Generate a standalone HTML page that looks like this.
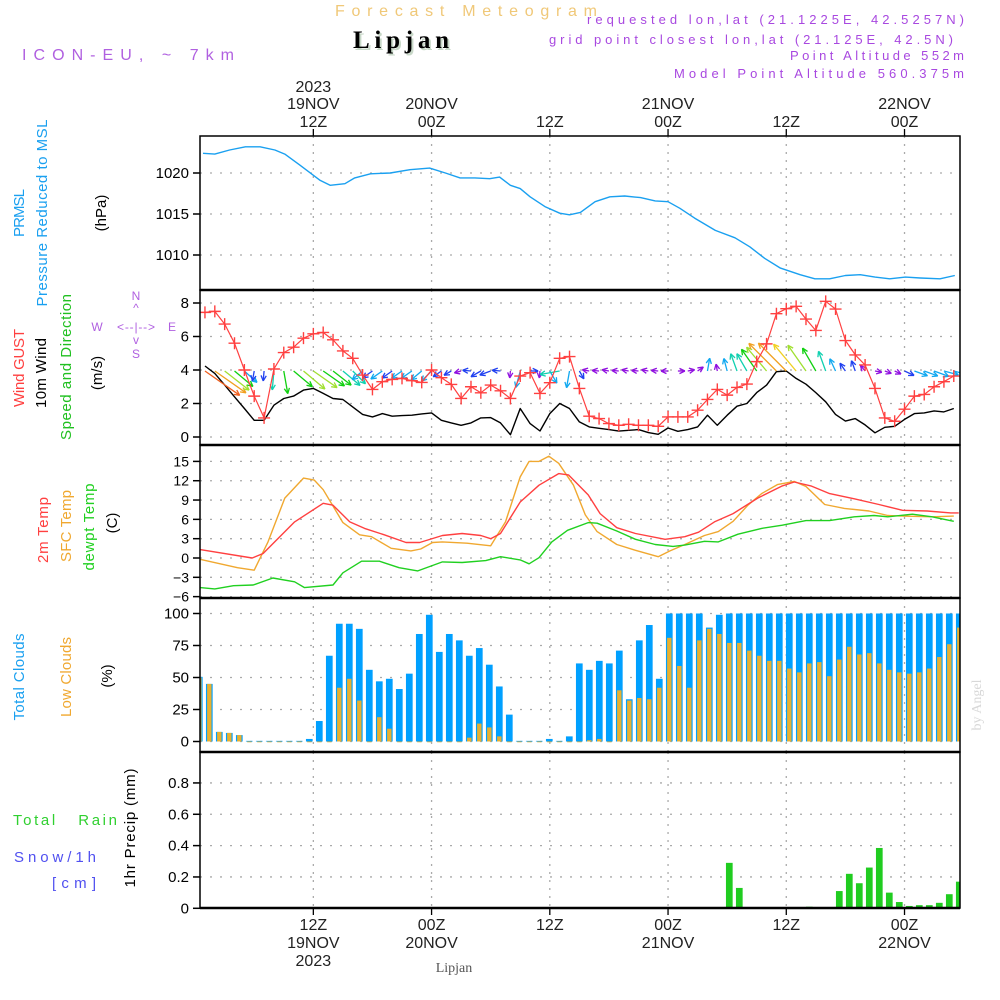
<!DOCTYPE html>
<html><head><meta charset="utf-8"><style>
html,body{margin:0;padding:0;background:#fff;}
svg{display:block;font-family:"Liberation Sans",sans-serif;}
</style></head><body>
<svg id="chart" width="1000" height="1000" viewBox="0 0 1000 1000" xmlns="http://www.w3.org/2000/svg">
<rect x="0" y="0" width="1000" height="1000" fill="#fff"/>
<text x="335" y="16" font-size="16" fill="#f0c878" textLength="262">Forecast Meteogram</text>
<text x="355" y="50" font-family="Liberation Serif,serif" font-weight="bold" font-size="25" fill="#c8d8c8" textLength="96">Lipjan</text>
<text x="353" y="48" font-family="Liberation Serif,serif" font-weight="bold" font-size="25" fill="#000" textLength="96">Lipjan</text>
<text x="22" y="60" font-size="16" fill="#b060e0" textLength="212">ICON-EU, ~ 7km</text>
<g fill="#a848e0" font-size="13" text-anchor="end">
<text x="964" y="24" textLength="377">requested lon,lat (21.1225E, 42.5257N)</text>
<text x="953" y="44" textLength="404">grid point closest lon,lat (21.125E, 42.5N)</text>
<text x="964" y="60" textLength="174">Point Altitude 552m</text>
<text x="964" y="78" textLength="290">Model Point Altitude 560.375m</text>
</g>
<g font-size="15" fill="#000" text-anchor="middle">
<text transform="translate(24,213) rotate(-90)" fill="#1aa0f0" textLength="48">PRMSL</text>
<text transform="translate(47,213) rotate(-90)" fill="#1aa0f0" textLength="187">Pressure Reduced to MSL</text>
<text transform="translate(106,213) rotate(-90)">(hPa)</text>
<text transform="translate(24,368) rotate(-90)" fill="#ff4040" textLength="78">Wind GUST</text>
<text transform="translate(46,373) rotate(-90)" textLength="70">10m Wind</text>
<text transform="translate(71,367) rotate(-90)" fill="#20c020" textLength="146">Speed and Direction</text>
<text transform="translate(102,373) rotate(-90)">(m/s)</text>
<text transform="translate(48,530) rotate(-90)" fill="#ff4040" textLength="66">2m Temp</text>
<text transform="translate(71,526) rotate(-90)" fill="#f0a830" textLength="72">SFC Temp</text>
<text transform="translate(94,527) rotate(-90)" fill="#20d020" textLength="87">dewpt Temp</text>
<text transform="translate(117,523) rotate(-90)">(C)</text>
<text transform="translate(24,677) rotate(-90)" fill="#1aa0f0" textLength="87">Total Clouds</text>
<text transform="translate(71,677) rotate(-90)" fill="#f0a830" textLength="80">Low Clouds</text>
<text transform="translate(112,676) rotate(-90)">(%)</text>
<text transform="translate(135,828) rotate(-90)" textLength="119">1hr Precip (mm)</text>
</g>
<text x="13" y="825" font-size="15" fill="#30d030" textLength="104" xml:space="preserve">Total   Rain</text>
<text x="14" y="862" font-size="15" fill="#5050f0" textLength="82">Snow/1h</text>
<text x="52" y="888" font-size="15" fill="#5050f0" textLength="44">[cm]</text>
<g fill="#b060e0" font-size="12" text-anchor="middle">
<text x="136" y="300">N</text><text x="136" y="312">^</text>
<text x="97" y="331">W</text><text x="136" y="331" textLength="38">&lt;--|--&gt;</text><text x="172" y="331">E</text>
<text x="136" y="344">v</text><text x="136" y="358">S</text>
</g>
<text transform="translate(981,705) rotate(-90)" text-anchor="middle" font-family="Liberation Serif,serif" font-size="14" fill="#d8d8d8">by Angel</text>
<text x="454" y="972" text-anchor="middle" font-family="Liberation Serif,serif" font-size="14" fill="#555">Lipjan</text>
<g id="plot"></g>
</svg>
<script>
const pressHours=[0.8,2,3.5,5.1,6.6,8.1,9.1,10.6,12.7,13.7,15.2,16.2,17.8,19.8,21.8,23.8,25.4,26.9,28.4,29.9,30.9,32,33,34,35.5,37,38,39.1,40.6,42.1,43.6,45.2,46.7,48,49.2,50.7,52.8,54.8,56.3,57.8,59.4,61.4,62.9,64.4,66,67.5,69,70.5,72.1,73.6,75.6,77.1];
const pressVals=[1022.4,1022.3,1022.8,1023.2,1023.2,1022.8,1022.3,1021.0,1019.1,1018.5,1018.7,1019.4,1019.9,1020.0,1020.4,1020.6,1020.0,1019.4,1019.4,1019.3,1019.5,1018.5,1018.1,1017.1,1015.9,1015.1,1014.9,1015.2,1016.5,1017.1,1017.2,1017.0,1016.6,1016.5,1015.7,1014.5,1013.0,1012.1,1011.0,1009.6,1008.4,1007.6,1007.1,1007.1,1007.5,1007.6,1007.3,1007.1,1007.3,1007.2,1007.1,1007.5];
const wind10m=[4.24,3.8,3.1,2.4,1.7,1.0,1.0,1.9,2.3,2.44,2.8,2.9,2.6,2.3,2.24,1.8,1.35,1.2,1.4,1.24,1.28,1.3,1.38,1.44,1.0,0.84,0.7,0.84,1.14,1.16,0.84,0.14,1.7,0.8,0.36,1.4,2.0,1.7,0.9,0.6,0.52,0.44,0.35,0.4,0.44,0.26,0.16,0.54,0.34,0.44,0.6,1.3,0.7,1.3,1.84,2.0,2.65,3.1,3.9,3.94,3.5,3.15,2.65,2.1,1.35,0.95,1.1,0.72,0.25,0.58,0.64,1.05,1.4,1.44,1.56,1.5,1.7];
const windGust=[7.44,7.5,6.74,5.6,4.0,2.44,1.14,4.06,5.04,5.36,5.9,6.16,6.24,5.8,5.14,4.7,3.7,2.84,3.3,3.44,3.5,3.36,3.26,4.0,3.54,3.14,2.3,3.0,2.64,3.1,2.76,2.3,3.64,3.84,2.6,3.24,4.7,4.8,2.9,1.24,1.1,0.8,0.7,0.76,0.7,0.7,0.64,1.2,1.2,1.2,1.6,2.24,2.84,2.5,2.96,3.16,4.5,5.56,7.36,7.66,7.8,7.04,6.36,8.1,7.64,5.76,4.9,4.3,2.9,1.14,0.94,1.66,2.44,2.54,3.0,3.3,3.64];
const windDir=[35,35,38,40,42,100,95,95,80,40,40,35,35,38,40,45,140,145,145,145,145,145,140,135,145,150,165,185,150,160,185,95,105,0,95,60,170,100,60,190,185,190,185,190,185,190,185,180,0,-10,-35,-80,-100,-105,-110,-120,-125,-130,-135,-135,-130,-125,-120,-110,-115,-125,-110,-130,10,20,25,25,20,20,20,15,15];
const t2mHours=[0.5,5.8,6.9,10.1,13.0,14.0,15.7,17.2,19.2,21.4,22.8,25.1,27.1,29.0,30.0,31.0,33.0,34.9,36.9,37.9,39.9,41.1,42.8,44.7,47.7,49.7,51.1,52.7,54.6,57.1,59.6,60.8,62.5,64.4,66.9,69.4,71.8,74.3,76.7,77.5];
const t2mVals=[1.3,0.0,0.7,5.6,8.5,8.2,5.6,4.6,3.6,2.4,2.4,3.5,3.8,3.5,3.0,3.8,8.7,11.3,13.1,12.9,9.8,6.9,4.7,3.8,2.9,3.3,4.0,5.6,6.9,9.3,11.2,11.8,11.2,10.0,9.2,8.3,7.4,7.3,7.0,7.0];
const sfcHours=[0.5,4.3,6.0,7.4,9.1,11.0,12.1,13.0,15.0,16.7,17.9,19.9,21.9,22.9,24.1,25.1,27.6,30.0,31.5,33.0,33.9,34.9,35.9,36.9,38.4,39.6,40.8,42.8,44.7,47.0,48.2,49.7,51.7,53.1,54.6,56.1,57.5,59.1,60.8,62.0,63.9,65.9,68.4,70.3,71.8,74.8,77.0];
const sfcVals=[-0.2,-1.5,-1.9,2.5,9.3,12.4,12.1,10.6,5.5,3.6,3.3,1.5,1.1,1.4,2.4,2.5,2.3,1.9,5.6,12.6,15.0,15.0,15.8,14.7,11.3,6.7,4.1,2.1,1.2,0.2,1.1,2.1,3.5,4.1,5.7,8.2,10.0,11.4,11.9,11.1,8.3,7.7,7.3,6.6,6.5,6.4,6.5];
const dewHours=[0.5,2.0,3.9,5.9,7.9,10.1,11.1,14.0,15.0,16.9,18.7,20.7,22.6,25.1,27.1,29.5,31.0,33.0,33.9,34.9,36.2,37.8,39.9,40.8,42.8,44.7,46.7,48.5,49.7,51.7,53.1,55.1,57.5,59.6,62.0,64.4,66.9,68.9,70.3,72.8,74.8,77.0];
const dewVals=[-4.6,-4.8,-4.3,-4.2,-3.1,-3.7,-4.6,-4.2,-2.3,-0.5,-0.5,-1.5,-2.0,-0.6,-0.7,-0.4,0.2,-0.3,-0.9,0.05,2.5,4.3,5.5,5.4,4.2,2.9,2.1,1.8,2.0,2.6,2.5,3.7,4.6,5.1,5.8,5.8,6.4,6.6,6.4,6.8,6.4,5.7];
const totalClouds=[50.5,45,7.5,6.7,5,0.5,0.5,0.5,0.5,0.5,0.5,2,16,67,92,92,88,56,47,49,41,53,84,99,70,84,79,67,73,60,43,21,0.5,0.5,0.5,2,0.5,4,61,56,63,61,71,33,79,91,49,100,100,100,100,89,99,100,100,100,100,100,100,100,100,100,100,100,100,100,100,100,100,100,100,100,100,100,100,100,100];
const lowClouds=[50,45,7.5,6.7,5,0,0,0,0,0,0,0,0,0,42,49,32,0,19,10,0,0,0,0,0,0,0,3,14,11,4,0,0,0,0,0,0,0,0,1,2,0,40,32,34,33,42,81,59,42,79,88,84,77,77,71,67,63,63,57,54,61,62,51,64,74,68,69,61,56,54,53,54,57,66,76,89];
const precip=[0,0,0,0,0,0,0,0,0,0,0,0,0,0,0,0,0,0,0,0,0,0,0,0,0,0,0,0,0,0,0,0,0,0,0,0,0,0,0,0,0,0,0,0,0,0,0,0,0,0,0,0,0,0.29,0.13,0,0,0,0,0,0,0.01,0,0,0.11,0.22,0.16,0.26,0.385,0.10,0.04,0.015,0.02,0.02,0.035,0.09,0.17];
const timeTickHours=[12,24,36,48,60,72];
const timeTickLabels=["12Z","00Z","12Z","00Z","12Z","00Z"];
const dateLabels=["19NOV","20NOV","","21NOV","","22NOV"];
const pressTicks=[1010,1015,1020];
const windTicks=[0,2,4,6,8];
const tempTicks=[-6,-3,0,3,6,9,12,15];
const cloudTicks=[0,25,50,75,100];
const precipTicks=["0","0.2","0.4","0.6","0.8"];

const NS='http://www.w3.org/2000/svg';
const plot=document.getElementById('plot');
function mk(tag,attrs,parent){const e=document.createElementNS(NS,tag);for(const k in attrs)e.setAttribute(k,attrs[k]);(parent||plot).appendChild(e);return e;}
const X0=200,X1=960;
function xh(h){return 195.1+9.853*h;}
function xb(h){return 199.3+(h-1)*10;}
function yP(v){return 173+(1020-v)*8.2;}
function yW(v){return 437-v*16.75;}
function yT(v){return 558-v*6.44;}
function yC(v){return 741.5-v*1.28;}
function yR(v){return 908.3-v*156.7;}
const panels=[[136,290,'pressure'],[290,445,'wind'],[445,598,'temperature'],[598,752,'clouds'],[752,908,'precip']];
const clip=mk('clipPath',{id:'pc'});mk('rect',{x:X0,y:136,width:X1-X0,height:772},clip);
panels.forEach(p=>{timeTickHours.forEach(h=>{const g=mk('line',{x1:xh(h),x2:xh(h),y1:p[0],y2:p[1],stroke:'#aaa','stroke-width':1.3,'stroke-dasharray':'2,6'});

});});
function yAxis(ticks,yf,labels,size){ticks.forEach((t,i)=>{const y=yf(+t);
const gl=mk('line',{x1:X0,x2:X1,y1:y,y2:y,stroke:'#aaa','stroke-width':1.3,'stroke-dasharray':'2,8'});


const tk=mk('line',{x1:193,x2:X0,y1:y,y2:y,stroke:'#000','stroke-width':1.5});


const tx=mk('text',{x:189,y:y+5,'text-anchor':'end','font-size':size||15,fill:'#000'});tx.textContent=(labels?labels[i]:String(t)).replace('-','\u2212');

});}
yAxis(pressTicks,yP);yAxis(windTicks,yW);yAxis(tempTicks,yT,null,14);yAxis(cloudTicks,yC);yAxis(precipTicks,yR,precipTicks);
const gc=mk('g',{'clip-path':'url(#pc)'});
function line(hours,vals,yf,color,name,w){const d=vals.map((v,i)=>(i?'L':'M')+xh(hours[i]).toFixed(1)+','+yf(v).toFixed(1)).join('');
const p=mk('path',{d:d,fill:'none',stroke:color,'stroke-width':w||1.4,'stroke-linejoin':'round'},gc);

}
line(pressHours,pressVals,yP,'#1aa0f0','pressure-line');
totalClouds.forEach((v,i)=>{const h=i+1,y=yC(v);const r=mk('rect',{x:xb(h)-3.35,y:y,width:6.7,height:yC(0)-y,fill:'#00a0ff'},gc);

});
lowClouds.forEach((v,i)=>{const h=i+1,y=yC(v);const r=mk('rect',{x:xb(h)-2.2,y:y,width:4.4,height:Math.max(0.8,yC(0)-y),fill:'#e8b030'},gc);

});
precip.forEach((v,i)=>{if(v<=0)return;const h=i+1,y=yR(v);const r=mk('rect',{x:xb(h)-3.35,y:y,width:6.7,height:yR(0)-y,fill:'#20cc20'},gc);

});
line(sfcHours,sfcVals,yT,'#f0a830','sfc-temp-line');
line(t2mHours,t2mVals,yT,'#ff4040','temp-2m-line');
line(dewHours,dewVals,yT,'#20d020','dewpoint-line');
const hrs=wind10m.map((v,i)=>i+1);
line(hrs,wind10m,yW,'#000','wind-10m-line');
function windColor(s){if(s<0.75)return '#9010e0';if(s<1.25)return '#2040f0';if(s<1.75)return '#10a8f0';if(s<2.25)return '#10d0b0';if(s<2.75)return '#10d010';if(s<3.25)return '#a0e030';if(s<3.75)return '#f0d020';if(s<4.1)return '#f0a020';return '#f06020';}
wind10m.forEach((s,i)=>{const h=i+1,x=xh(h),y=371,a=windDir[i]*Math.PI/180,L=Math.max(7,10*s);
const x2=x+L*Math.cos(a),y2=y+L*Math.sin(a);const c=windColor(s);
const g=mk('g',{stroke:c,'stroke-width':1.3,fill:'none'},gc);


mk('line',{x1:x,y1:y,x2:x2,y2:y2},g);
[0.45,-0.45].forEach(da=>{mk('line',{x1:x2,y1:y2,x2:x2-6*Math.cos(a+da),y2:y2-6*Math.sin(a+da)},g);});});
line(hrs,windGust,yW,'#ff4040','wind-gust-line',1.2);
windGust.forEach((v,i)=>{const x=xh(i+1),y=yW(v);const g=mk('path',{d:`M${x-6},${y}H${x+6}M${x},${y-6}V${y+6}`,stroke:'#ff4040','stroke-width':1.4},gc);

});
panels.forEach(p=>{const r=mk('rect',{x:X0,y:p[0],width:X1-X0,height:p[1]-p[0],fill:'none',stroke:'#000','stroke-width':1.5});

});
[290,445,598,752].forEach(y=>{mk('line',{x1:X0,x2:X1,y1:y,y2:y,stroke:'#000','stroke-width':2.5});});
mk('line',{x1:X0,x2:X1,y1:908,y2:908,stroke:'#000','stroke-width':2.5});
timeTickHours.forEach((h,i)=>{const x=xh(h);
mk('line',{x1:x,x2:x,y1:129,y2:136,stroke:'#000','stroke-width':1.3});
mk('line',{x1:x,x2:x,y1:908,y2:915,stroke:'#000','stroke-width':1.3});
const t1=mk('text',{x:x,y:127,'text-anchor':'middle','font-size':16,fill:'#222'});t1.textContent=timeTickLabels[i];


const t2=mk('text',{x:x,y:930,'text-anchor':'middle','font-size':16,fill:'#222'});t2.textContent=timeTickLabels[i];


if(dateLabels[i]){const d1=mk('text',{x:x,y:109,'text-anchor':'middle','font-size':16,fill:'#222'});d1.textContent=dateLabels[i];


const d2=mk('text',{x:x,y:948,'text-anchor':'middle','font-size':16,fill:'#222'});d2.textContent=dateLabels[i];

}
if(i===0){const y1=mk('text',{x:x,y:92,'text-anchor':'middle','font-size':16,fill:'#222'});y1.textContent='2023';


const y2=mk('text',{x:x,y:966,'text-anchor':'middle','font-size':16,fill:'#222'});y2.textContent='2023';

}});
</script>
</body></html>
